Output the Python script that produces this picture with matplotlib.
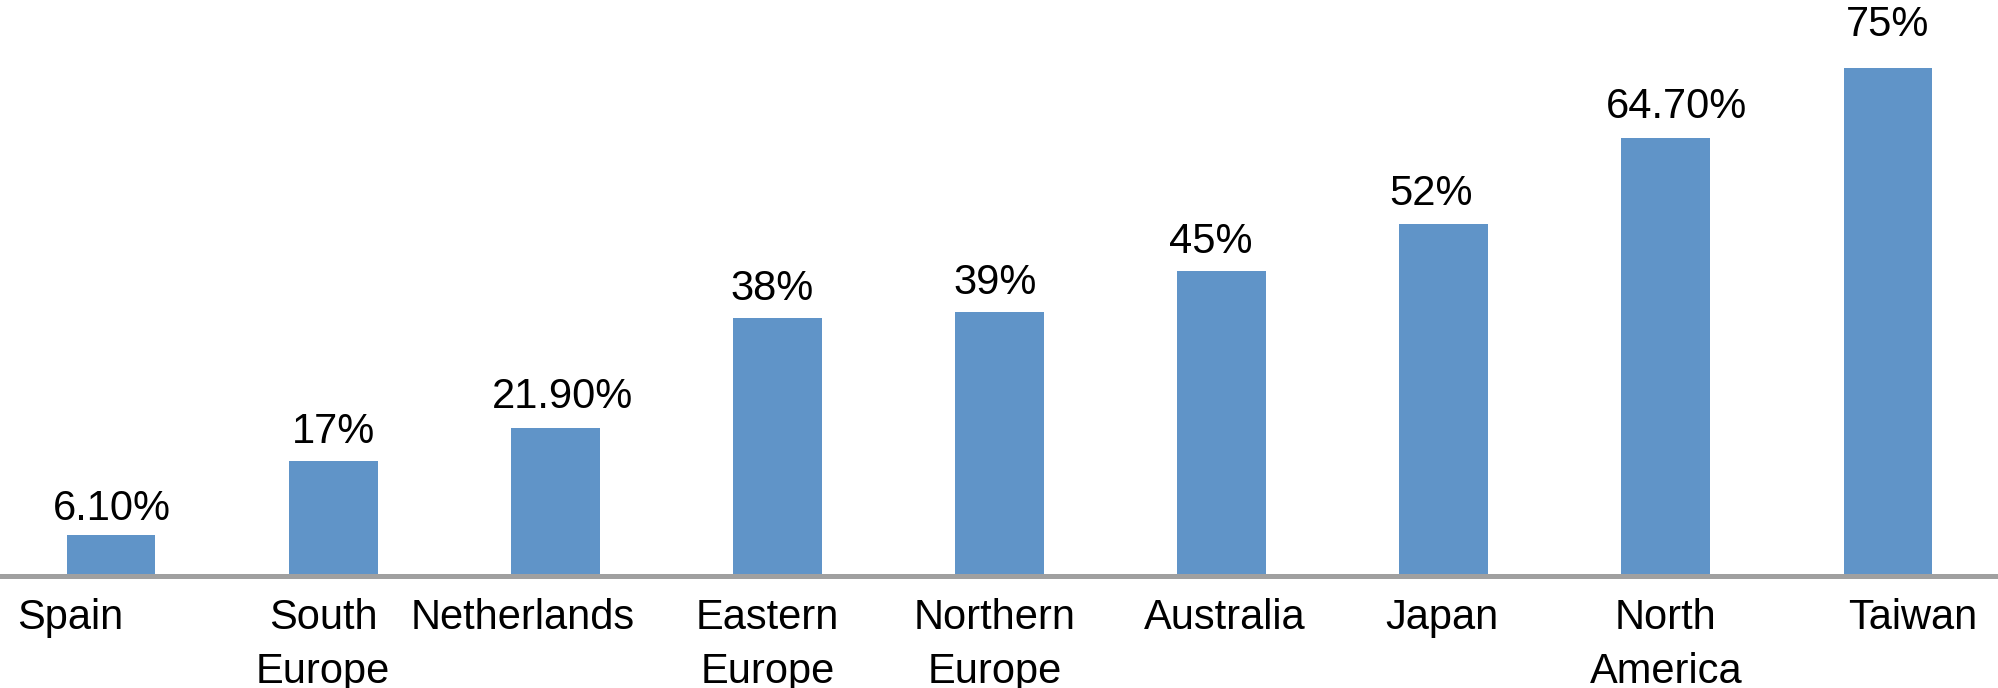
import matplotlib
matplotlib.use("Agg")
import matplotlib.pyplot as plt

# ---- data ----
categories = ["Spain", "South\nEurope", "Netherlands", "Eastern\nEurope", "Northern\nEurope",
              "Australia", "Japan", "North\nAmerica", "Taiwan"]
values = [6.1, 17, 21.9, 38, 39, 45, 52, 64.7, 75]
value_labels = ["6.10%", "17%", "21.90%", "38%", "39%", "45%", "52%", "64.70%", "75%"]

# ---- style / layout ----
cat_dx = [-41, -10, -33, -10, -5, 3, -2, 0, 25]        # pixel shifts of category labels
val_dx = [1, 0, 7, -5, -4, -11, -13, 11, 0]             # pixel shifts of value labels
val_dy = [15, 18, 20, 18, 18, 18, 19, 20, 32]           # gap bar top -> label baseline (px)
bar_color = "#6094C8"
font = "Liberation Sans"
fs = 30

fig = plt.figure(figsize=(19.99, 6.88), dpi=100)
ax = fig.add_axes([0, 0.1628, 1, 0.8372])
x = list(range(len(values)))
ax.bar(x, values, width=0.4, color=bar_color, zorder=2)
ax.set_xlim(-0.5, len(values) - 0.5)
ax.set_ylim(0, 85)
ax.axis("off")
ax.axhline(0, color="#A0A0A0", lw=3.6, zorder=3, clip_on=False)

for i, (v, lab) in enumerate(zip(values, value_labels)):
    ax.annotate(lab, xy=(i, v), xytext=(val_dx[i], val_dy[i]), textcoords="offset pixels",
                ha="center", va="baseline", fontsize=fs, family=font, color="black")

for i, c in enumerate(categories):
    ax.annotate(c, xy=(i, 0), xytext=(cat_dx[i], -22), textcoords="offset pixels",
                ha="center", va="top", fontsize=fs, family=font, color="black",
                linespacing=1.45, multialignment="center", annotation_clip=False)

fig.savefig("out.png", dpi=100)
